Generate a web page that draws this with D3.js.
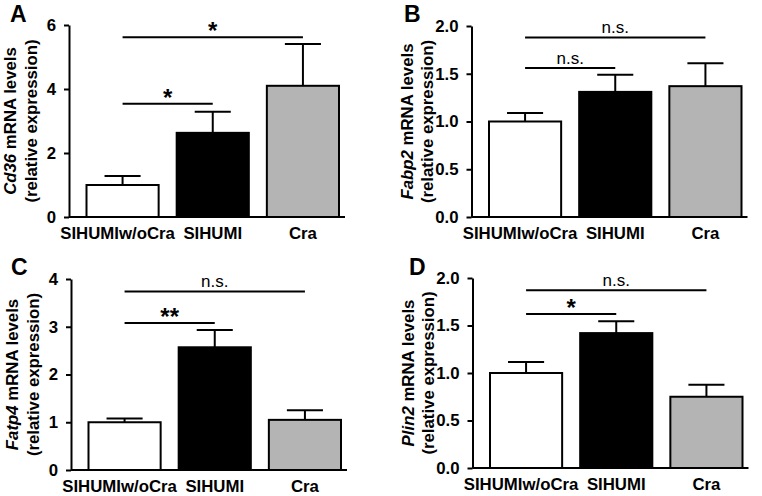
<!DOCTYPE html>
<html>
<head>
<meta charset="utf-8">
<script src="https://cdn.jsdelivr.net/npm/d3@7"></script>
<style>
  html, body { margin: 0; padding: 0; background: #fff; }
  svg { display: block; font-family: "Liberation Sans", Arial, sans-serif; }
</style>
</head>
<body>
<svg id="chart" width="762" height="496"></svg>
<script>
// ---- data ----
const categories = ["SIHUMIw/oCra", "SIHUMI", "Cra"];
const barColors = ["#ffffff", "#000000", "#b4b4b4"];

const cd36Mean = [1.0, 2.63, 4.10];
const cd36Err  = [0.28, 0.66, 1.31];
const cd36Ticks = [0, 2, 4, 6];
const cd36Sig = [
  {from: 0, to: 1, level: 3.54, label: "*"},
  {from: 0, to: 2, level: 5.62, label: "*"}
];

const fabp2Mean = [1.0, 1.31, 1.37];
const fabp2Err  = [0.09, 0.18, 0.24];
const fabp2Ticks = [0, 0.5, 1.0, 1.5, 2.0];
const fabp2Sig = [
  {from: 0, to: 1, level: 1.56, label: "n.s."},
  {from: 0, to: 2, level: 1.88, label: "n.s."}
];

const fatp4Mean = [1.0, 2.57, 1.05];
const fatp4Err  = [0.08, 0.36, 0.20];
const fatp4Ticks = [0, 1, 2, 3, 4];
const fatp4Sig = [
  {from: 0, to: 1, level: 3.08, label: "**"},
  {from: 0, to: 2, level: 3.74, label: "n.s."}
];

const plin2Mean = [1.0, 1.42, 0.75];
const plin2Err  = [0.115, 0.125, 0.127];
const plin2Ticks = [0, 0.5, 1.0, 1.5, 2.0];
const plin2Sig = [
  {from: 0, to: 1, level: 1.62, label: "*"},
  {from: 0, to: 2, level: 1.87, label: "n.s."}
];

// ---- layout ----
const panels = [
  {letter: "A", gene: "Cd36",  mean: cd36Mean,  err: cd36Err,  ticks: cd36Ticks,  sig: cd36Sig,  max: 6, fmt: d3.format("d"),
   x0: 69,    y0: 217, yTop: 25,  lx: 10,  ly: 22,  lab1: -53, lab2: -32},
  {letter: "B", gene: "Fabp2", mean: fabp2Mean, err: fabp2Err, ticks: fabp2Ticks, sig: fabp2Sig, max: 2, fmt: d3.format(".1f"),
   x0: 471.5, y0: 217, yTop: 26,  lx: 404, ly: 22,  lab1: -59, lab2: -39},
  {letter: "C", gene: "Fatp4", mean: fatp4Mean, err: fatp4Err, ticks: fatp4Ticks, sig: fatp4Sig, max: 4, fmt: d3.format("d"),
   x0: 71,    y0: 470, yTop: 279, lx: 11,  ly: 275, lab1: -53, lab2: -32},
  {letter: "D", gene: "Plin2", mean: plin2Mean, err: plin2Err, ticks: plin2Ticks, sig: plin2Sig, max: 2, fmt: d3.format(".1f"),
   x0: 472.5, y0: 468, yTop: 278, lx: 409, ly: 275, lab1: -59, lab2: -39}
];

const svg = d3.select("#chart");
const FS = 16.8;

panels.forEach(p => {
  const g = svg.append("g");
  const x = d3.scaleBand().domain(categories)
    .range([p.x0 + 17.5, p.x0 + 270]).paddingInner(0.2).paddingOuter(0);
  const y = d3.scaleLinear().domain([0, p.max]).range([p.y0, p.yTop]);
  const bw = x.bandwidth();

  // bars
  g.selectAll("rect.bar").data(categories).join("rect")
    .attr("class", "bar")
    .attr("x", d => x(d))
    .attr("y", (d, i) => y(p.mean[i]))
    .attr("width", bw)
    .attr("height", (d, i) => y(0) - y(p.mean[i]))
    .attr("fill", (d, i) => barColors[i])
    .attr("stroke", "#000").attr("stroke-width", 2);

  // error bars (upper only)
  categories.forEach((c, i) => {
    const cx = x(c) + bw / 2;
    g.append("line").attr("x1", cx).attr("x2", cx)
      .attr("y1", y(p.mean[i])).attr("y2", y(p.mean[i] + p.err[i]))
      .attr("stroke", "#000").attr("stroke-width", 2);
    g.append("line").attr("x1", cx - bw / 4).attr("x2", cx + bw / 4)
      .attr("y1", y(p.mean[i] + p.err[i])).attr("y2", y(p.mean[i] + p.err[i]))
      .attr("stroke", "#000").attr("stroke-width", 2);
  });

  // x axis line
  g.append("line").attr("x1", p.x0).attr("x2", p.x0 + 276)
    .attr("y1", p.y0).attr("y2", p.y0)
    .attr("stroke", "#000").attr("stroke-width", 2);

  // y axis
  const ya = g.append("g").attr("transform", `translate(${p.x0},0)`)
    .call(d3.axisLeft(y).tickValues(p.ticks).tickFormat(p.fmt)
      .tickSize(5).tickSizeOuter(0).tickPadding(8));
  ya.select(".domain").attr("stroke-width", 2);
  ya.selectAll(".tick line").attr("stroke-width", 2);
  ya.selectAll(".tick text").attr("font-size", FS).attr("font-weight", "bold")
    .attr("font-family", "Liberation Sans, Arial, sans-serif").attr("fill", "#000");

  // x category labels
  g.selectAll("text.cat").data(categories).join("text")
    .attr("class", "cat")
    .attr("x", (d, i) => x(d) + bw / 2 - (i === 0 ? 5 : 0))
    .attr("y", p.y0 + 22)
    .attr("text-anchor", "middle")
    .attr("font-size", FS).attr("font-weight", "bold")
    .text(d => d);

  // y label
  const cy = (p.y0 + p.yTop) / 2;
  const t1 = g.append("text")
    .attr("transform", `translate(${p.x0 + p.lab1},${cy}) rotate(-90)`)
    .attr("text-anchor", "middle").attr("font-size", FS).attr("font-weight", "bold");
  t1.append("tspan").attr("font-style", "italic").text(p.gene);
  t1.append("tspan").text(" mRNA levels");
  g.append("text")
    .attr("transform", `translate(${p.x0 + p.lab2},${cy}) rotate(-90)`)
    .attr("text-anchor", "middle").attr("font-size", FS).attr("font-weight", "bold")
    .text("(relative expression)");

  // panel letter
  g.append("text").attr("x", p.lx).attr("y", p.ly)
    .attr("font-size", 23).attr("font-weight", "bold").text(p.letter);

  // significance brackets
  p.sig.forEach(s => {
    const xa = x(categories[s.from]) + bw / 2;
    const xb = x(categories[s.to]) + bw / 2;
    const ly = y(s.level);
    g.append("line").attr("x1", xa).attr("x2", xb).attr("y1", ly).attr("y2", ly)
      .attr("stroke", "#000").attr("stroke-width", 2);
    const isStar = s.label.indexOf("*") >= 0;
    g.append("text")
      .attr("x", (xa + xb) / 2)
      .attr("y", isStar ? ly + 2 : ly - 4)
      .attr("text-anchor", "middle")
      .attr("font-size", isStar ? 24 : 17)
      .attr("font-weight", isStar ? "bold" : "normal")
      .text(s.label);
  });
});
</script>
</body>
</html>
